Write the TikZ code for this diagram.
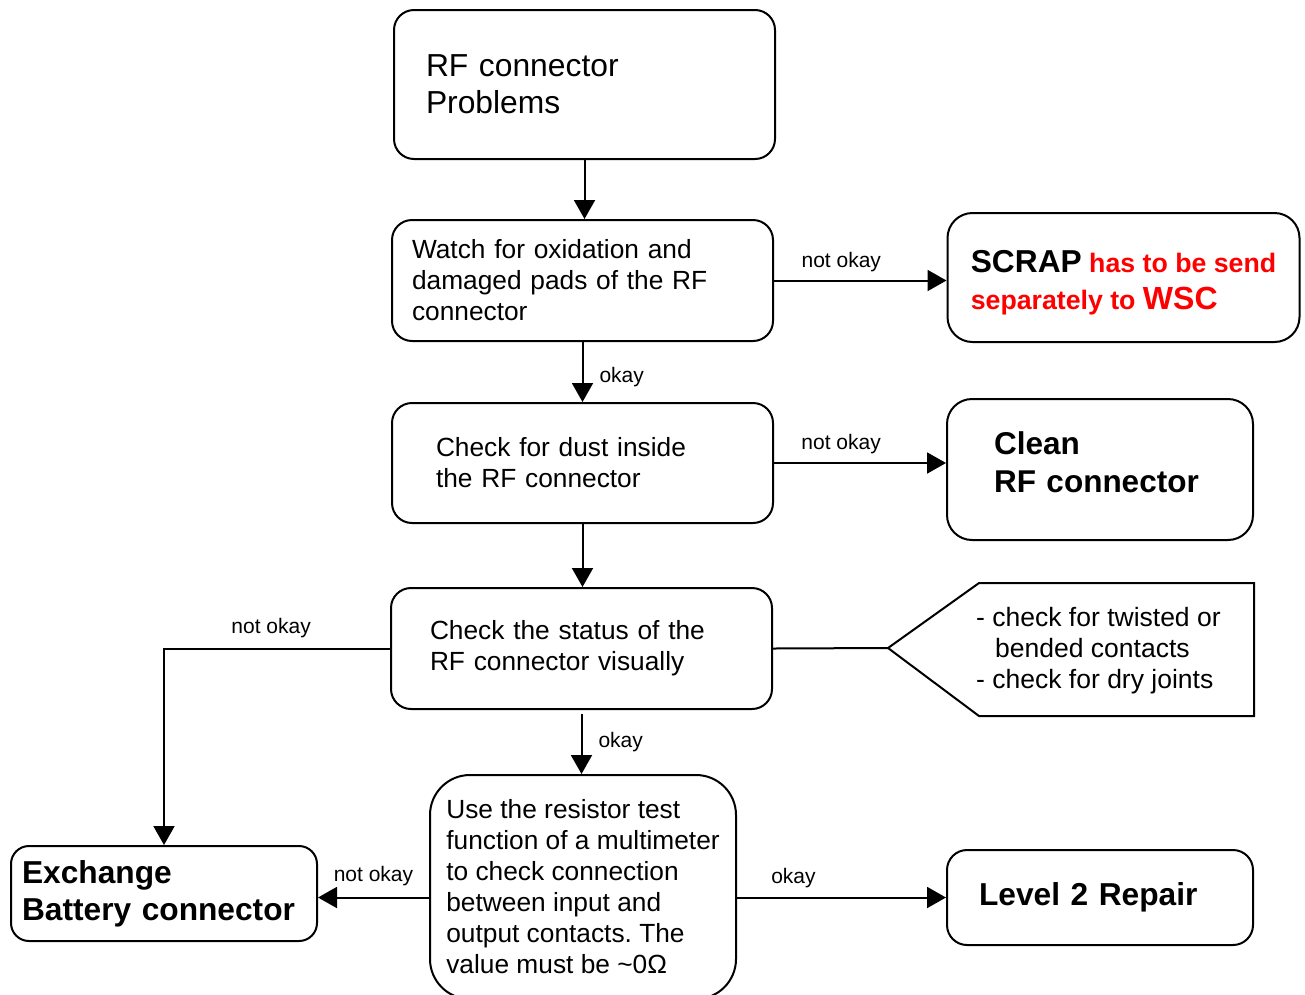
\documentclass[tikz,border=0pt]{standalone}
\usepackage{fontspec}
\setmainfont{Liberation Sans}
\usetikzlibrary{arrows.meta}
\definecolor{scrapred}{RGB}{255,0,0}
\newcommand{\fsz}[2]{\fontsize{#1pt}{#2pt}\selectfont}
\frenchspacing
\begin{document}
\begin{tikzpicture}[x=1pt,y=-1pt,
  box/.style={draw, line width=2pt, rounded corners=20pt, inner sep=0pt, align=left, font=\fsz{26.3}{31}},
  boldbox/.style={box, font=\fsz{31.7}{37}\bfseries},
  arr/.style={line width=2pt, -{Triangle[length=19pt,width=21pt]}},
  conn/.style={line width=2pt},
  lbl/.style={font=\fsz{21}{25}, inner sep=0pt},
  ]
\useasboundingbox (0,0) rectangle (1305,994);
\clip (0,0) rectangle (1305,994);

% boxes
\node[box, font=\fsz{31.8}{37}, minimum width=381pt, minimum height=149pt, text width=317pt] (A) at (584.5,84.5) {RF connector\\Problems};
\node[box, minimum width=381pt, minimum height=121pt, text width=341pt] (B) at (582.5,280.5) {Watch for oxidation and\\damaged pads of the RF\\connector};
\node[box, font=\fsz{26.7}{37}\bfseries, minimum width=352pt, minimum height=129pt, rounded corners=25pt, xshift=1.5pt] (S) at (1122,277.5) {\rule{0pt}{32pt}{\fsz{31.7}{37}SCRAP} \textcolor{scrapred}{has to be send}\\\textcolor{scrapred}{separately to {\fsz{32}{37}WSC}}};
\node[box, minimum width=381pt, minimum height=120pt, text width=293pt] (C) at (582.5,463) {Check for dust inside\\the RF connector};
\node[boldbox, font=\fsz{31.5}{38}\bfseries, minimum width=306pt, minimum height=141pt, text width=212pt, rounded corners=25pt] (CL) at (1100,469.5) {Clean\\RF connector\rule[-14pt]{0pt}{14pt}};
\node[box, minimum width=381pt, minimum height=121pt, text width=303pt] (D) at (581.5,648.5) {Check the status of the\\RF connector visually};
\node[box, minimum width=306pt, minimum height=224pt, rounded corners=40pt] (E) at (583,887) {Use the resistor test\\function of a multimeter\\to check connection\\between input and\\output contacts. The\\value must be \textasciitilde 0\symbol{"03A9}};
\node[boldbox, minimum width=306pt, minimum height=95pt, text width=284pt, rounded corners=18pt] (X) at (164,893.5) {Exchange\\Battery connector};
\node[boldbox, minimum width=306pt, minimum height=95pt, text width=242pt] (L) at (1100,897.5) {Level 2 Repair};

% callout
\coordinate (cp) at (888,648);
\draw[conn] (cp) -- (979,583) -- (1254,583) -- (1254,716) -- (979,716) -- cycle;
\node[font=\fsz{26.5}{31}, align=left, inner sep=0pt, anchor=west] (ct) at (976,651) {- check for twisted or\\\hspace*{19pt}bended contacts\\- check for dry joints};

% connectors
\draw[arr] (A.south) -- (A.south |- B.north);
\draw[arr] (B.east) -- (B.east -| S.west) node[lbl, pos=0.39, above=8pt] {not okay};
\draw[arr] (B.south) -- (B.south |- C.north) node[lbl, pos=0.59, right=16pt] {okay};
\draw[arr] (C.east) -- (C.east -| CL.west) node[lbl, pos=0.39, above=8pt] {not okay};
\draw[arr] (C.south) -- (C.south |- D.north);
\draw[arr] (D.west) -| (X.north) node[lbl, pos=0.263, above=10pt] {not okay};
\draw[conn] (D.east) -- (cp);
\draw[arr, shorten <=4pt] (D.south) -- (D.south |- E.north) node[lbl, pos=0.5, right=16pt] {okay};
\draw[arr] (E.west |- L.west) -- (X.east |- L.west) node[lbl, pos=0.5, above=11pt] {not okay};
\draw[arr] (E.east |- L.west) -- (L.west) node[lbl, pos=0.27, above=9pt] {okay};
\end{tikzpicture}
\end{document}
